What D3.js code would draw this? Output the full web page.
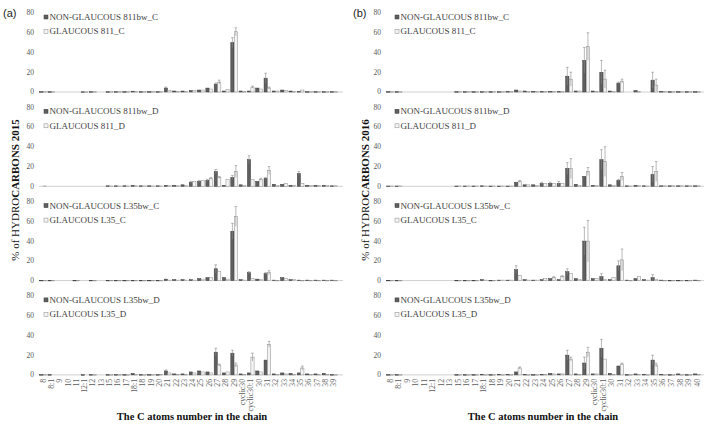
<!DOCTYPE html>
<html><head><meta charset="utf-8">
<script src="https://cdn.jsdelivr.net/npm/d3@7"></script>
<style>body{margin:0;background:#fff}svg{display:block}</style>
</head><body>
<svg id="c" width="709" height="431"></svg>
<script>
// ---------- DATA ----------
const catsL = ["8","8:1","9","10","11","12:1","12","13","15","16","17","18:1","18","19","20","21","22","23","24","25","26","27","28","29","cyclic30","cyclic30:1","30","31","32","33","34","35","36","37","38","39"];
const catsR = ["8","8:1","9","10","11","12:1","12","13","15","16","17","18:1","18","19","20","21","22","23","24","25","26","27","28","29","cyclic30","cyclic30:1","30","31","32","33","34","35","36","37","38","39","40"];
const yTicks = [0,20,40,60,80];

// 2015 (a)
const ng811C_2015 = [0.3,0.3,0,0,0,0.2,0.3,0,0.3,0.3,0.3,0.8,0.3,0.3,0.3,4,1,1,1.5,2,4,8,1,50,1,1,4,14,1,2,1,0.5,0.3,0.3,0.3,0.3];
const ng811C_2015e = [0,0,0,0,0,0,0,0,0,0,0,0,0,0,0,1,0,0,0,0,0,1,0,5,0,0,0,5,0,0,0,0,0,0,0,0];
const g811C_2015 = [0.3,0.3,0,0,0,0.2,0.3,0,0.3,0.3,0.3,0.5,0.3,0.3,0.3,1.5,0.5,0.5,1.5,2,3,10,2.5,61,0.5,5,3,4,1,1.5,0.5,2,0.3,0.3,0.3,0.3];
const g811C_2015e = [0,0,0,0,0,0,0,0,0,0,0,0,0,0,0,0,0,0,0,0,0,2,0,4,0,1,0,1,0,0,0,0,0,0,0,0];

const ng811D_2015 = [0,0,0,0,0,0,0,0,0.5,0.5,0.5,1,0.5,0.5,0.5,1,1,1.5,4,5,6,15,1,9,1.5,27,5,8,2,2,1,13,1,1,1,0.5];
const ng811D_2015e = [0,0,0,0,0,0,0,0,0,0,0,0,0,0,0,0,0,0,1,1,1,2,0,2,0,4,0,1,0,0,0,2,0,0,0,0];
const g811D_2015 = [0.3,0,0,0,0,0,0,0,0.3,0.3,0.3,0.5,0.3,0.3,0.3,0.5,0.5,1,5,6,8,9,7,15,1,7,7,16,1,3,1,3,1,1,1,0.5];
const g811D_2015e = [0,0,0,0,0,0,0,0,0,0,0,0,0,0,0,0,0,0,0,0,1,1,0,6,0,0,1,4,0,0,0,0,0,0,0,0];

const ngL35C_2015 = [0.3,0.3,0,0,0.3,0,0.3,0,0.3,0.3,0.3,0.3,0.3,0.3,0.3,1.5,1,1,1,2,3,12,3,50,1,8,1.5,7,0.5,3,1,0.5,0.5,0.5,0.5,0.5];
const ngL35C_2015e = [0,0,0,0,0,0,0,0,0,0,0,0,0,0,0,0,0,0,0,0,0,4,0,8,0,1,0,1,0,0,0,0,0,0,0,0];
const gL35C_2015 = [0.3,0.3,0,0,0.3,0,0.3,0,0.3,0.3,0.3,0.3,0.3,0.3,0.3,0.5,0.5,0.5,0.5,1.5,3,9,1.5,65,0.5,2,1,8,0.3,2,1,0.3,0.3,0.3,0.3,0.3];
const gL35C_2015e = [0,0,0,0,0,0,0,0,0,0,0,0,0,0,0,0,0,0,0,0,0,0,0,10,0,0,0,2,0,0,0,0,0,0,0,0];

const ngL35D_2015 = [0.3,0.3,0,0,0,0.2,0.3,0,0.3,0.3,0.3,1.5,0.3,0.3,0.3,4,1,1,3,4,3,23,2,22,1,2,4,15,1,2,1.5,2,1,1,1.5,0.3];
const ngL35D_2015e = [0,0,0,0,0,0,0,0,0,0,0,0,0,0,0,1,0,0,0,0,0,4,0,3,0,0,0,0,0,0,0,0,0,0,0,0];
const gL35D_2015 = [0.3,0,0,0,0,0,0.3,0,0.3,0.3,0.3,0.5,0.3,0.3,0.5,2,0.5,0.5,2,3,2,10,3,10,0.5,18,3,31,0.5,1,0.5,7,0.5,0.5,0.5,0.3];
const gL35D_2015e = [0,0,0,0,0,0,0,0,0,0,0,0,0,0,0,0,0,0,0,0,0,1,0,2,0,4,0,3,0,0,0,2,0,0,0,0];

// 2016 (b)
const ng811C_2016 = [0.3,0.3,0,0,0,0,0,0,0.3,0.3,0.3,0.3,0.3,0.3,0.5,2,1,0.5,0.5,0.5,0.5,16,1,32,1,20,1,9,0,1.5,0,12,0.5,0.3,0.3,0.3,0.3];
const ng811C_2016e = [0,0,0,0,0,0,0,0,0,0,0,0,0,0,0,0,0,0,0,0,0,9,0,13,0,12,0,1,0,0,0,8,0,0,0,0,0];
const g811C_2016 = [0.3,0.3,0,0,0,0,0,0,0.3,0.3,0.3,0.3,0.3,0.3,0.5,1,0.5,0.5,0.5,0.5,0.5,13,1,46,0.5,13,0.5,11,0,0.5,0,7,0.5,0.3,0.3,0.3,0.3];
const g811C_2016e = [0,0,0,0,0,0,0,0,0,0,0,0,0,0,0,0,0,0,0,0,0,7,0,14,0,9,0,2,0,0,0,6,0,0,0,0,0];

const ng811D_2016 = [0.3,0.3,0,0,0,0,0,0,0.3,0.3,0.3,0.5,0.3,0.3,0.3,4,1.5,1.5,3,3,3,18,2,10,1,27,1.5,6,0.5,1,0.5,12,0.5,0.5,0.5,0.5,0.5];
const ng811D_2016e = [0,0,0,0,0,0,0,0,0,0,0,0,0,0,0,0,0,0,1,1,2,6,0,0,0,10,0,1,0,0,0,8,0,0,0,0,0];
const g811D_2016 = [0.3,0.3,0,0,0,0,0,0,0.3,0.3,0.3,0.3,0.3,0.3,0.3,5,1.5,1,3,3,3,18,1,15,1,25,1,10,0.3,1,0.3,15,0.5,0.5,0.5,0.5,0.5];
const g811D_2016e = [0,0,0,0,0,0,0,0,0,0,0,0,0,0,0,1,0,0,0,0,0,10,0,4,0,15,0,4,0,0,0,10,0,0,0,0,0];

const ngL35C_2016 = [0.3,0.3,0,0,0,0,0,0,0.3,0.3,0.3,1,0.3,0.5,0.5,11,1,0.5,1,2,1,9,2,40,2,4,1,15,0.5,2,1,3,0.5,0.3,0.3,0.3,0.5];
const ngL35C_2016e = [0,0,0,0,0,0,0,0,0,0,0,0,0,0,0,4,0,0,0,0,0,3,0,14,0,3,0,5,0,0,0,3,0,0,0,0,0];
const gL35C_2016 = [0.3,0.3,0,0,0,0,0,0,0.3,0.3,0.3,0.5,0.3,0.5,0.5,5,0.5,0.5,2,3,4,7,1,40,2,1,3,21,0.3,4,0.5,1,0.3,0.3,0.3,0.3,0.3];
const gL35C_2016e = [0,0,0,0,0,0,0,0,0,0,0,0,0,0,0,0,0,0,0,1,1,0,0,21,0,0,0,11,0,0,0,0,0,0,0,0,0];

const ngL35D_2016 = [0.3,0.3,0,0,0,0,0,0,0.3,0.3,0.3,0.5,0.3,0.5,0.5,3,0.5,0.3,0.5,1.5,1,20,1,12,1,27,1.5,9,0.3,1,0.5,15,0.5,0.3,1,0.3,1];
const ngL35D_2016e = [0,0,0,0,0,0,0,0,0,0,0,0,0,0,0,0,0,0,0,0,0,5,0,6,0,9,0,0,0,0,0,5,0,0,0,0,0];
const gL35D_2016 = [0.3,0.3,0,0,0,0,0,0,0.3,0.3,0.3,0.3,0.3,0.3,0.3,7,0.3,0.3,0.5,1,1,16,0.5,23,1,16,0.5,11,0.3,0.5,0.3,10,0.3,0.3,0.3,0.3,0.5];
const gL35D_2016e = [0,0,0,0,0,0,0,0,0,0,0,0,0,0,0,1,0,0,0,0,0,2,0,5,0,0,0,1,0,0,0,2,0,0,0,0,0];

const legendNames = [
  ["NON-GLAUCOUS 811bw_C","GLAUCOUS 811_C"],
  ["NON-GLAUCOUS 811bw_D","GLAUCOUS 811_D"],
  ["NON-GLAUCOUS L35bw_C","GLAUCOUS L35_C"],
  ["NON-GLAUCOUS L35bw_D","GLAUCOUS L35_D"]
];
const yTitles = ["2015","2016"];
const panelLetters = ["(a)","(b)"];
const xTitle = "The C atoms number in the chain";

// ---------- LAYOUT ----------
const svg = d3.select("#c");
const serif = "'Liberation Serif','Times New Roman',serif";
const sides = [
  {cats: catsL, range:[38.85, 338.0], base:[39, 343], tickX: 34, legX: 44, titleX: 19, letterX: 3, xTitleX: 192,
   rows: [[ng811C_2015,ng811C_2015e,g811C_2015,g811C_2015e],[ng811D_2015,ng811D_2015e,g811D_2015,g811D_2015e],[ngL35C_2015,ngL35C_2015e,gL35C_2015,gL35C_2015e],[ngL35D_2015,ngL35D_2015e,gL35D_2015,gL35D_2015e]]},
  {cats: catsR, range:[385.7, 701.3], base:[387, 704], tickX: 381, legX: 395, titleX: 369, letterX: 353, xTitleX: 543,
   rows: [[ng811C_2016,ng811C_2016e,g811C_2016,g811C_2016e],[ng811D_2016,ng811D_2016e,g811D_2016,g811D_2016e],[ngL35C_2016,ngL35C_2016e,gL35C_2016,gL35C_2016e],[ngL35D_2016,ngL35D_2016e,gL35D_2016,gL35D_2016e]]}
];
const rowZero = r => 92 + 94.3*r;

sides.forEach((s, si) => {
  const x = d3.scaleBand().domain(s.cats).range(s.range).paddingInner(0.2).paddingOuter(0.1);
  const xs = d3.scaleBand().domain(["d","l"]).range([0, x.bandwidth()]).paddingInner(0.08);

  s.rows.forEach((row, r) => {
    const y0 = rowZero(r);
    const y = d3.scaleLinear().domain([0,80]).range([y0, y0-79]);
    const g = svg.append("g");

    g.selectAll("text.yt").data(yTicks).join("text")
      .attr("x", s.tickX).attr("y", d => y(d)).attr("dy","0.32em")
      .attr("text-anchor","end").attr("font-family",serif).attr("font-size",7.5)
      .attr("fill","#595959").text(d => d);

    g.append("line").attr("x1", s.base[0]).attr("x2", s.base[1])
      .attr("y1", y(0)).attr("y2", y(0)).attr("stroke","#d0d0d0").attr("stroke-width",1);

    const [dv, de, lv, le] = row;
    const series = [
      {key:"d", vals:dv, errs:de, fill:"#5f5f5f", stroke:"#3a3a3a"},
      {key:"l", vals:lv, errs:le, fill:"#f4f4f4", stroke:"#8a8a8a"}
    ];
    series.forEach(se => {
      const data = s.cats.map((c,i) => ({c, v: se.vals[i], e: se.errs[i]}));
      g.selectAll(null).data(data.filter(d => d.v > 0)).join("rect")
        .attr("x", d => x(d.c) + xs(se.key))
        .attr("width", xs.bandwidth())
        .attr("y", d => y(d.v))
        .attr("height", d => Math.max(0.6, y(0) - y(d.v)))
        .attr("fill", se.fill).attr("stroke", se.stroke).attr("stroke-width", 0.5);
      const ed = data.filter(d => d.e > 0);
      const cx = d => x(d.c) + xs(se.key) + xs.bandwidth()/2;
      g.selectAll(null).data(ed).join("line")
        .attr("x1", cx).attr("x2", cx)
        .attr("y1", d => y(Math.max(0, d.v - d.e))).attr("y2", d => y(d.v + d.e))
        .attr("stroke","#8a8a8a").attr("stroke-width",0.6);
      g.selectAll(null).data(ed).join("line")
        .attr("x1", d => cx(d) - 1.3).attr("x2", d => cx(d) + 1.3)
        .attr("y1", d => y(d.v + d.e)).attr("y2", d => y(d.v + d.e))
        .attr("stroke","#8a8a8a").attr("stroke-width",0.6);
    });

    const lg = g.append("g");
    legendNames[r].forEach((nm, k) => {
      const ly = y(80) + 4 + k*14.5;
      lg.append("rect").attr("x", s.legX).attr("y", ly-2).attr("width",4).attr("height",4)
        .attr("fill", k===0 ? "#5f5f5f" : "#f4f4f4").attr("stroke", k===0 ? "#3a3a3a" : "#8a8a8a").attr("stroke-width",0.5);
      lg.append("text").attr("x", s.legX + 5.5).attr("y", ly).attr("dy","0.33em")
        .attr("font-family",serif).attr("font-size",9).attr("fill","#404040").text(nm);
    });

    if (r === 3) {
      g.selectAll("text.xl").data(s.cats).join("text")
        .attr("transform", d => `translate(${x(d) + x.bandwidth()/2},${y0 + 4}) rotate(-90)`)
        .attr("text-anchor","end").attr("dy","0.33em")
        .attr("font-family",serif).attr("font-size",7.8).attr("fill","#595959").text(d => d);
    }
  });

  const t = svg.append("text").attr("transform", `translate(${s.titleX},190) rotate(-90)`)
    .attr("text-anchor","middle").attr("font-family",serif).attr("font-size",11).attr("fill","#111");
  t.append("tspan").text("% of HYDRO");
  t.append("tspan").attr("font-weight","bold").text("CARBONS " + yTitles[si]);

  svg.append("text").attr("x", s.xTitleX).attr("y", 420).attr("text-anchor","middle")
    .attr("font-family",serif).attr("font-size",10.5).attr("font-weight","bold").attr("fill","#111").text(xTitle);

  svg.append("text").attr("x", s.letterX).attr("y", 17).attr("font-family","'Liberation Sans',Arial,sans-serif")
    .attr("font-size",11).attr("fill","#222").text(panelLetters[si]);
});
</script>
</body></html>
